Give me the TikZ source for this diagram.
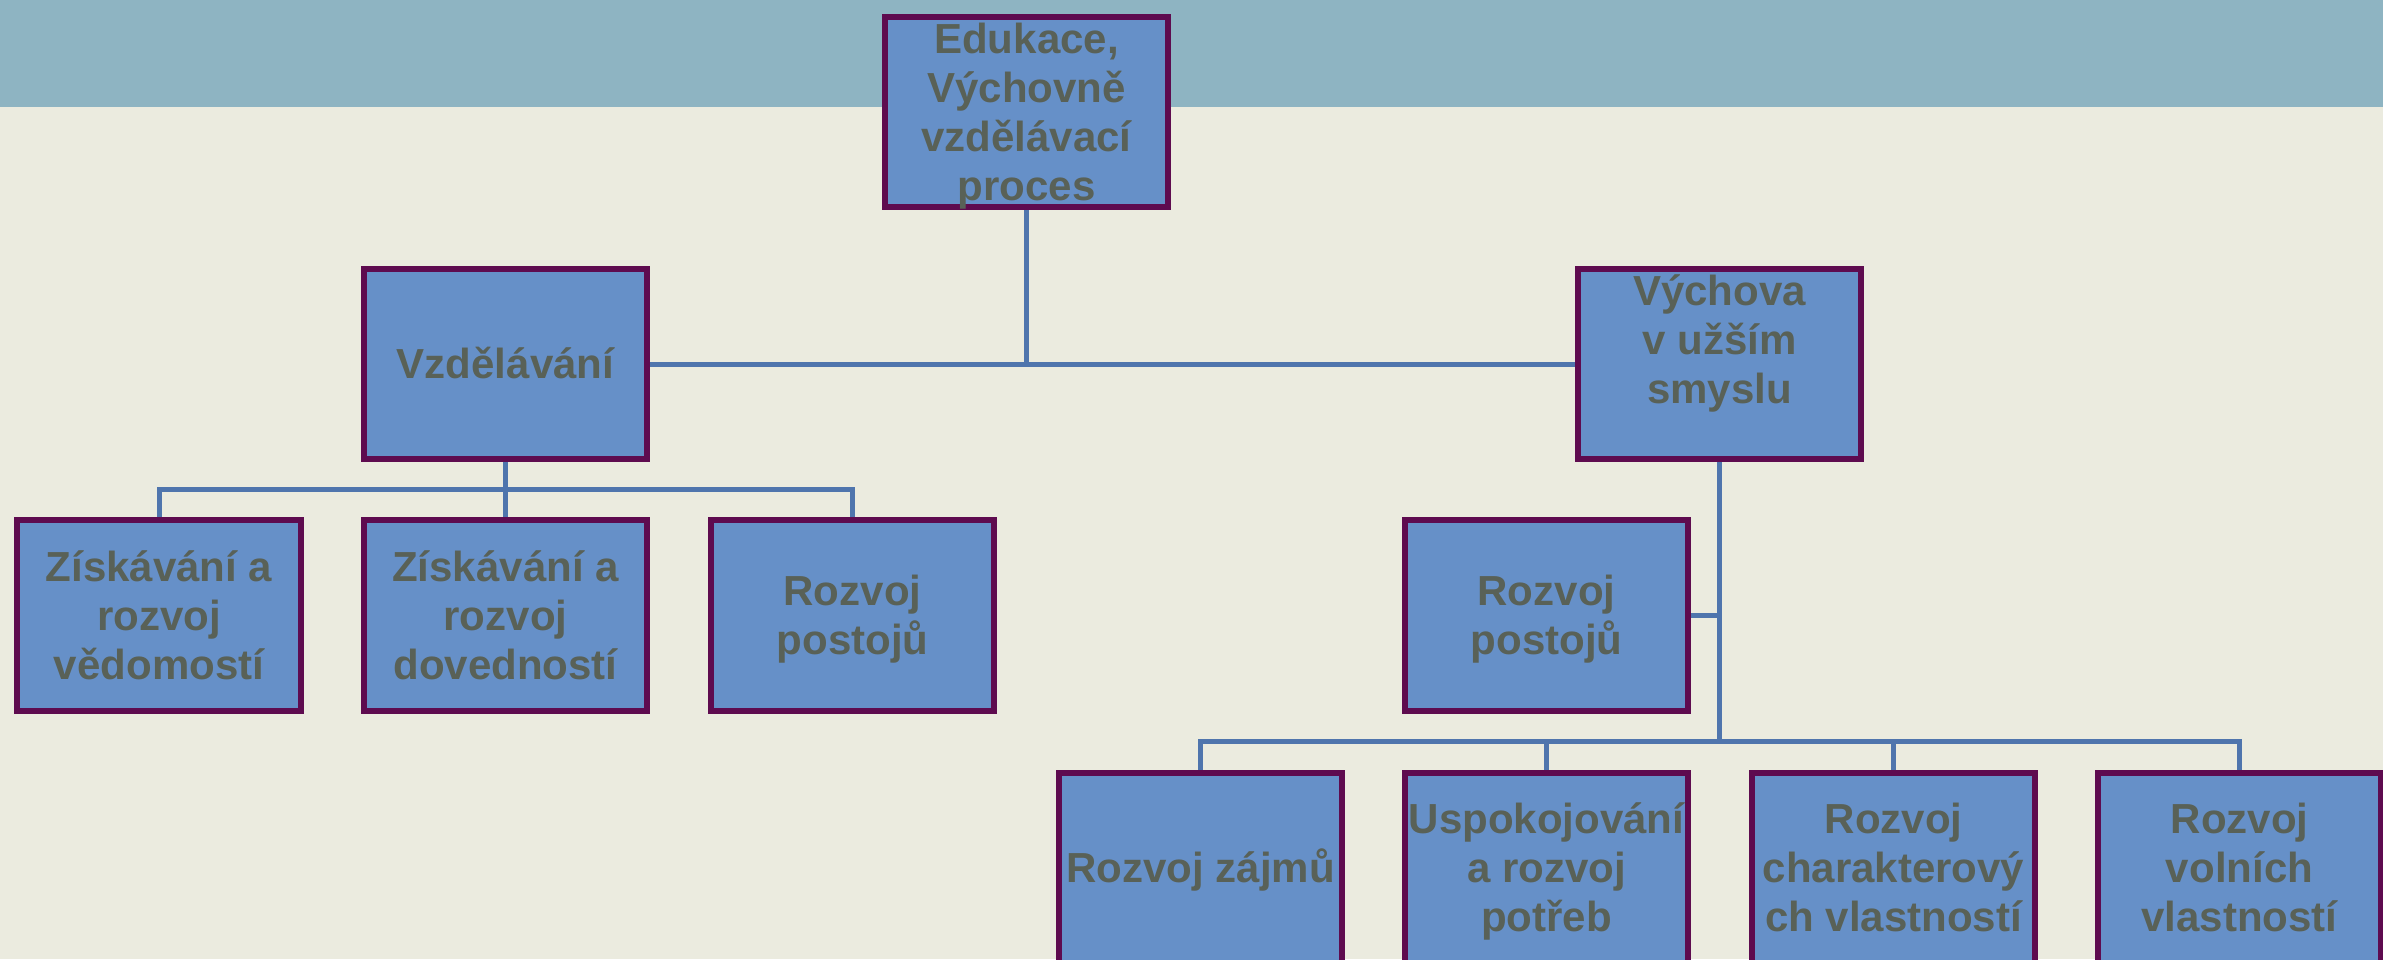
\documentclass[tikz,border=0pt]{standalone}
\usepackage{fontspec}
\setmainfont{Liberation Sans}
\definecolor{cream}{HTML}{EBEBDF}
\definecolor{band}{HTML}{8EB4C2}
\definecolor{boxfill}{HTML}{6690C8}
\definecolor{boxline}{HTML}{5E0B4F}
\definecolor{connc}{HTML}{4F75AD}
\definecolor{txt}{HTML}{596157}
\pgfdeclarelayer{back}
\pgfdeclarelayer{links}
\pgfsetlayers{back,links,main}
\begin{document}
\begin{tikzpicture}[x=0.01cm,y=-0.01cm,
  box/.style={draw=boxline, line width=0.06cm, fill=boxfill,
    minimum width=2.83cm, minimum height=1.90cm, inner sep=0pt,
    align=center, text=txt,
    font=\fontsize{11.95}{13.94}\selectfont\bfseries,
    text height=11.15pt, text depth=2.79pt},
  lines2/.style={box, text height=25.09pt},
  lines3/.style={box, text height=39.03pt},
  lines4/.style={box, text height=51.5pt, text depth=1.32pt},
  link/.style={draw=connc, line width=0.05cm}]
\useasboundingbox (0,0) rectangle (2383,959);
\begin{pgfonlayer}{back}
\fill[cream] (0,0) rectangle (2383,959);
\fill[band] (0,0) rectangle (2383,107);
\end{pgfonlayer}

\coordinate (j1) at (505.5,489);
\coordinate (j2) at (1719.5,741);

\begin{scope}
\clip (0,0) rectangle (2383,959);
\node[lines4] (top) at (1026.5,112) {Edukace,\\Výchovně\\vzdělávací\\proces};
\node[box] (vzd) at (505.5,364) {Vzdělávání};
\node[lines4] (vych) at (1719.5,364) {Výchova\\v užším\\smyslu\\\mbox{}};
\node[lines3] (b1) at (159,615.5) {Získávání a\\rozvoj\\vědomostí};
\node[lines3] (b2) at (505.5,615.5) {Získávání a\\rozvoj\\dovedností};
\node[lines2] (b3) at (852.5,615.5) {Rozvoj\\postojů};
\node[lines2] (rp) at (1546.5,615.5) {Rozvoj\\postojů};
\node[box] (c1) at (1200.5,868) {Rozvoj zájmů};
\node[lines3] (c2) at (1546.5,868) {Uspokojování\\a rozvoj\\potřeb};
\node[lines3] (c3) at (1893.5,868) {Rozvoj\\charakterový\\ch vlastností};
\node[lines3] (c4) at (2239.5,868) {Rozvoj\\volních\\vlastností};
\end{scope}

\begin{pgfonlayer}{links}
\draw[link] (top.south) -- (top.south |- vzd.east);
\draw[link] (vzd.east) -- (vych.west);
\draw[link] (vzd.south) -- (b2.north);
\draw[link] (b1.north) -- (b1.north |- j1) -- (b3.north |- j1) -- (b3.north);
\draw[link] (vych.south) -- (j2);
\draw[link] (rp.east) -- (rp.east -| vych.south);
\draw[link] (c1.north) -- (c1.north |- j2) -- (c4.north |- j2) -- (c4.north);
\draw[link] (c2.north) -- (c2.north |- j2);
\draw[link] (c3.north) -- (c3.north |- j2);
\end{pgfonlayer}
\end{tikzpicture}
\end{document}
